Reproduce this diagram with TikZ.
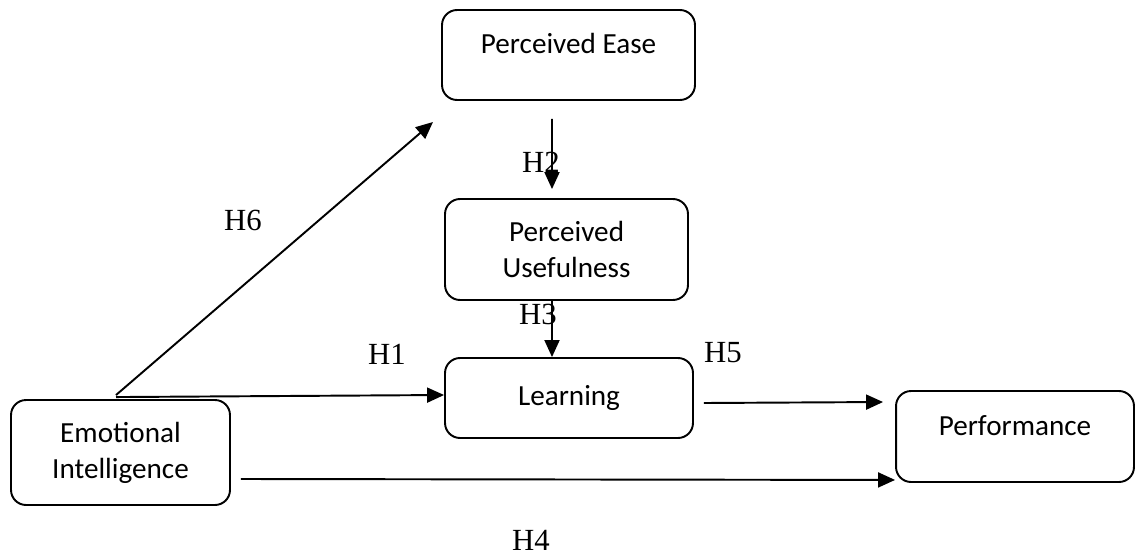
\documentclass[tikz,border=0pt]{standalone}
\usepackage{fontspec}
\setmainfont{Liberation Serif}
\newfontfamily\boxfont{Carlito}
\usetikzlibrary{arrows.meta}

\tikzstyle{construct} = [rectangle, rounded corners=0.3cm, draw=black, line width=1.1pt, inner sep=0pt, align=center, font=\boxfont\fontsize{16.6}{20.4}\selectfont]
\tikzstyle{hyp} = [inner sep=0pt, font=\fontsize{17.5}{20}\selectfont]
\tikzstyle{arrow} = [line width=1.1pt, -{Triangle[length=0.34cm,width=0.3cm]}]

\begin{document}
\begin{tikzpicture}[x=0.02cm,y=-0.02cm]
	\useasboundingbox (0,0) rectangle (1136,555);
	
	\node (ease) [construct, minimum width=5.06cm, minimum height=1.8cm, text depth=0.45cm] at (568.5,55) {Perceived Ease};
	\node (useful) [construct, minimum width=4.86cm, minimum height=2.02cm] at (566.5,249.5) {Perceived\\Usefulness};
	\node (learn) [construct, minimum width=4.96cm, minimum height=1.6cm] at (569,398) {Learning};
	\node (emo) [construct, minimum width=4.38cm, minimum height=2.1cm] at (120.5,452.5) {Emotional\\Intelligence};
	\node (perf) [construct, minimum width=4.76cm, minimum height=1.82cm, text depth=0.45cm] at (1015,436.5) {Performance};
	
	\coordinate (easetip) at (433,122);
	
	\draw [arrow] ([xshift=-0.09cm,yshift=0.08cm]emo.north) -- (easetip);
	\draw [arrow] ([xshift=-0.09cm,yshift=0.04cm]emo.north) -- ([yshift=0.06cm]learn.west);
	\draw [arrow] ([xshift=-0.33cm,yshift=-0.36cm]ease.south) -- ([xshift=-0.29cm,yshift=0.18cm]useful.north);
	\draw [arrow] ([xshift=-0.29cm]useful.south) -- ([xshift=-0.34cm]learn.north);
	\draw [arrow] ([xshift=0.2cm,yshift=-0.1cm]learn.east) -- ([xshift=-0.24cm,yshift=0.69cm]perf.west);
	\draw [arrow] ([xshift=0.2cm,yshift=-0.53cm]emo.east) -- ([yshift=0.06cm]perf.south west);
	
	\node (h6) [hyp] at (243,220) {H6};
	\node (h2) [hyp] at (541,162) {H2};
	\node (h1) [hyp] at (387,354) {H1};
	\node (h3) [hyp] at (538,314) {H3};
	\node (h5) [hyp] at (723,353) {H5};
	\node (h4) [hyp] at (531,540) {H4};
	
\end{tikzpicture}
\end{document}
